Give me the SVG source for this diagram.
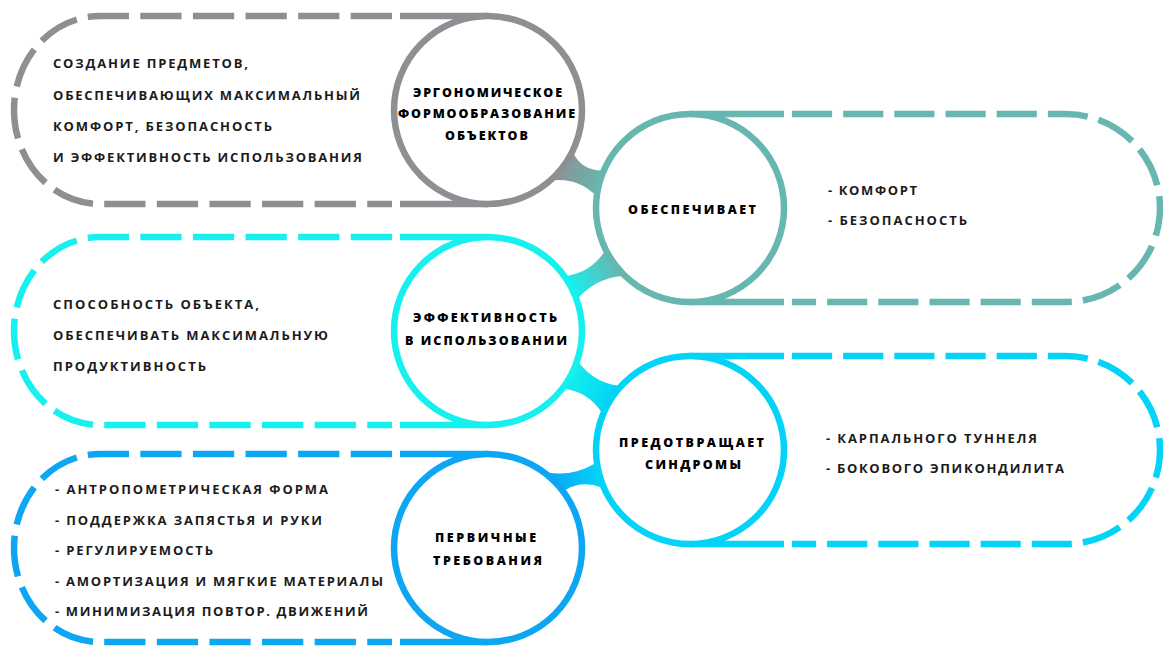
<svg xmlns="http://www.w3.org/2000/svg" width="1163" height="646" viewBox="0 0 1163 646">
  <style>
    .dash{fill:none;stroke-width:6.5;stroke-dasharray:40 11}
    .solid{fill:none;stroke-width:6.5}
    .ring{fill:#fff;stroke-width:6.5}
    .gray{stroke:#8e8f93}
    .teal{stroke:#67b6b0}
    .cyan{stroke:#16f0ee}
    .sky{stroke:#03d3f6}
    .blue{stroke:#0ca6f3}
    .body{font-family:"Open Sans","Noto Sans","DejaVu Sans",sans-serif;font-size:13px;font-weight:700;fill:#1b1b1b}
    .label{font-family:"Open Sans","Noto Sans","DejaVu Sans",sans-serif;font-size:12.5px;font-weight:800;fill:#000;text-anchor:middle}
  </style>
  <defs>
    <linearGradient id="g12" gradientUnits="userSpaceOnUse" x1="555" y1="165" x2="602" y2="182">
      <stop offset="0" stop-color="#8e8f93"/><stop offset="1" stop-color="#67b6b0"/>
    </linearGradient>
    <linearGradient id="g32" gradientUnits="userSpaceOnUse" x1="570" y1="288" x2="615" y2="262">
      <stop offset="0" stop-color="#16f0ee"/><stop offset="1" stop-color="#67b6b0"/>
    </linearGradient>
    <linearGradient id="g34" gradientUnits="userSpaceOnUse" x1="568" y1="372" x2="612" y2="400">
      <stop offset="0" stop-color="#16f0ee"/><stop offset="1" stop-color="#03d3f6"/>
    </linearGradient>
    <linearGradient id="g54" gradientUnits="userSpaceOnUse" x1="552" y1="484" x2="600" y2="476">
      <stop offset="0" stop-color="#0ca6f3"/><stop offset="1" stop-color="#03d3f6"/>
    </linearGradient>
  </defs>

  <!-- necks joining neighbouring circles -->
  <g id="connectors">
    <path id="link-ergonomic-provides" fill="url(#g12)" d="M573.5,153.6 Q582.3,170.6 601.6,170.5 L612,186 L594.9,194.6 Q577.5,178 553.5,180.2 L545,160 Z"/>
    <path id="link-efficiency-provides" fill="url(#g32)" d="M566.6,275.9 Q591,272.2 604.5,251.6 L625,258 L622.1,275.9 Q595.7,278.1 578.2,298.2 L560,300 Z"/>
    <path id="link-efficiency-prevents" fill="url(#g34)" d="M578.8,362.3 Q593.7,382.6 618.7,385.8 L625,405 L601.6,412.5 Q588.6,392.3 564.7,388.8 L560,360 Z"/>
    <path id="link-requirements-prevents" fill="url(#g54)" d="M547.1,472.4 Q572.7,476.7 594.9,463.4 L615,478 L601.6,487.5 Q582.5,479.9 564.7,490.2 L548,495 Z"/>
  </g>

  <g id="node-ergonomic">
    <path class="solid gray" d="M400,16 H488 M400,204 H488"/>
    <path class="dash gray" pathLength="840" d="M392,16 H100 A86,94 0 0 0 14,110 A86,94 0 0 0 100,204 H392"/>
    <circle class="ring gray" cx="488" cy="110" r="94"/>
    <text class="label" x="487.5" y="96.5" textLength="149" lengthAdjust="spacing">ЭРГОНОМИЧЕСКОЕ</text>
    <text class="label" x="486.5" y="118" textLength="177" lengthAdjust="spacing">ФОРМООБРАЗОВАНИЕ</text>
    <text class="label" x="486.5" y="139.5" textLength="83" lengthAdjust="spacing">ОБЪЕКТОВ</text>
    <text class="body" x="53" y="67.5" textLength="195" lengthAdjust="spacing">СОЗДАНИЕ ПРЕДМЕТОВ,</text>
    <text class="body" x="53" y="99.5" textLength="307" lengthAdjust="spacing">ОБЕСПЕЧИВАЮЩИХ МАКСИМАЛЬНЫЙ</text>
    <text class="body" x="53" y="131" textLength="219" lengthAdjust="spacing">КОМФОРТ, БЕЗОПАСНОСТЬ</text>
    <text class="body" x="53" y="161.5" textLength="309" lengthAdjust="spacing">И ЭФФЕКТИВНОСТЬ ИСПОЛЬЗОВАНИЯ</text>
  </g>

  <g id="node-provides">
    <path class="solid teal" d="M690,114 H784 M690,302 H784"/>
    <path class="dash teal" pathLength="840" d="M792,114 H1066 A94,94 0 0 1 1160,208 A94,94 0 0 1 1066,302 H792"/>
    <circle class="ring teal" cx="690" cy="208" r="94"/>
    <text class="label" x="692" y="214.3" textLength="128" lengthAdjust="spacing">ОБЕСПЕЧИВАЕТ</text>
    <text class="body" x="828" y="194.5" textLength="89" lengthAdjust="spacing">- КОМФОРТ</text>
    <text class="body" x="828" y="224.5" textLength="139" lengthAdjust="spacing">- БЕЗОПАСНОСТЬ</text>
  </g>

  <g id="node-efficiency">
    <path class="solid cyan" d="M400,237 H488 M400,425 H488"/>
    <path class="dash cyan" pathLength="840" d="M392,237 H100 A86,94 0 0 0 14,331 A86,94 0 0 0 100,425 H392"/>
    <circle class="ring cyan" cx="488" cy="331" r="94"/>
    <text class="label" x="485" y="322.3" textLength="144" lengthAdjust="spacing">ЭФФЕКТИВНОСТЬ</text>
    <text class="label" x="486" y="344.5" textLength="162" lengthAdjust="spacing">В ИСПОЛЬЗОВАНИИ</text>
    <text class="body" x="53" y="309" textLength="206" lengthAdjust="spacing">СПОСОБНОСТЬ ОБЪЕКТА,</text>
    <text class="body" x="53" y="340" textLength="275" lengthAdjust="spacing">ОБЕСПЕЧИВАТЬ МАКСИМАЛЬНУЮ</text>
    <text class="body" x="53" y="371" textLength="153" lengthAdjust="spacing">ПРОДУКТИВНОСТЬ</text>
  </g>

  <g id="node-prevents">
    <path class="solid sky" d="M690,356 H784 M690,544 H784"/>
    <path class="dash sky" pathLength="840" d="M792,356 H1066 A94,94 0 0 1 1160,450 A94,94 0 0 1 1066,544 H792"/>
    <circle class="ring sky" cx="690" cy="450" r="94"/>
    <text class="label" x="691.5" y="447.3" textLength="145" lengthAdjust="spacing">ПРЕДОТВРАЩАЕТ</text>
    <text class="label" x="693" y="469.3" textLength="96" lengthAdjust="spacing">СИНДРОМЫ</text>
    <text class="body" x="826" y="442.5" textLength="211" lengthAdjust="spacing">- КАРПАЛЬНОГО ТУННЕЛЯ</text>
    <text class="body" x="826" y="472.5" textLength="238" lengthAdjust="spacing">- БОКОВОГО ЭПИКОНДИЛИТА</text>
  </g>

  <g id="node-requirements">
    <path class="solid blue" d="M400,454 H488 M400,642 H488"/>
    <path class="dash blue" pathLength="840" d="M392,454 H100 A86,94 0 0 0 14,548 A86,94 0 0 0 100,642 H392"/>
    <circle class="ring blue" cx="488" cy="548" r="94"/>
    <text class="label" x="485.5" y="542.3" textLength="101" lengthAdjust="spacing">ПЕРВИЧНЫЕ</text>
    <text class="label" x="487.5" y="564.5" textLength="109" lengthAdjust="spacing">ТРЕБОВАНИЯ</text>
    <text class="body" x="55" y="493.5" textLength="273" lengthAdjust="spacing">- АНТРОПОМЕТРИЧЕСКАЯ ФОРМА</text>
    <text class="body" x="55" y="524.5" textLength="267" lengthAdjust="spacing">- ПОДДЕРЖКА ЗАПЯСТЬЯ И РУКИ</text>
    <text class="body" x="55" y="554.5" textLength="158" lengthAdjust="spacing">- РЕГУЛИРУЕМОСТЬ</text>
    <text class="body" x="55" y="585.5" textLength="328" lengthAdjust="spacing">- АМОРТИЗАЦИЯ И МЯГКИЕ МАТЕРИАЛЫ</text>
    <text class="body" x="55" y="615.5" textLength="313" lengthAdjust="spacing">- МИНИМИЗАЦИЯ ПОВТОР. ДВИЖЕНИЙ</text>
  </g>
</svg>
